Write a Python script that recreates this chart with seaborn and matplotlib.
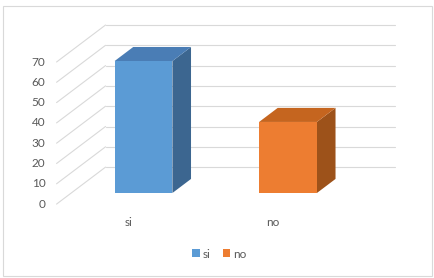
import matplotlib
matplotlib.use("Agg")
import matplotlib.pyplot as plt
from matplotlib.patches import Polygon, Patch, Rectangle
import seaborn as sns
import numpy as np

# ---- data ----
categories = ["si", "no"]
values = [65, 35]
tick_values = [0, 10, 20, 30, 40, 50, 60, 70]
legend_labels = ["si", "no"]

# ---- style ----
front_colors = ["#5B9BD5", "#ED7D31"]
top_colors = ["#4A7DB5", "#C5651F"]
side_colors = ["#3C6690", "#9D521A"]
grid_color = "#D9D9D9"
text_color = "#595959"

sns.set_theme(style="white")
plt.rcParams["font.family"] = ["Lato", "DejaVu Sans"]

W, H = 434, 278
fig = plt.figure(figsize=(W / 100, H / 100), dpi=100)
ax = fig.add_axes([0, 0, 1, 1])

sns.barplot(x=categories, y=values, hue=categories, palette=front_colors,
            width=0.4, saturation=1, legend=False, ax=ax, zorder=5,
            edgecolor="none", linewidth=0)

# pixel -> data mapping for layout
x0px, xunit = 143.5, 144.5
y0px, yunit = 193.0, 2.03
ax.set_xlim(-x0px / xunit, (W - x0px) / xunit)
ax.set_ylim((y0px - H) / yunit, y0px / yunit)
ax.axis("off")

# depth vector (full depth of the 3D box)
Dx, Dy = 49 / xunit, 37 / yunit
f_front, f_back, f_bar = -0.3, 0.7, 0.38
xl, xr = -0.5, 1.5

# back wall gridlines + side wall diagonals
for v in tick_values:
    bx0 = xl + f_back * Dx
    bx1 = xr + f_back * Dx
    by = v + f_back * Dy
    ax.plot([bx0, bx1], [by, by], color=grid_color, lw=0.8, zorder=1)
    fx = xl + f_front * Dx
    fy = v + f_front * Dy
    ax.plot([fx, bx0], [fy, by], color=grid_color, lw=0.8, zorder=1)
    ax.text(fx - 11 / xunit, fy, str(v), ha="right", va="center",
            fontsize=8.5, color=text_color)

# 3D faces of bars
bdx, bdy = f_bar * Dx, f_bar * Dy
for i, p in enumerate(ax.patches[:len(values)]):
    x0 = p.get_x()
    w = p.get_width()
    h = p.get_height()
    x1 = x0 + w
    side = Polygon([(x1, 0), (x1, h), (x1 + bdx, h + bdy), (x1 + bdx, bdy)],
                   closed=True, facecolor=side_colors[i], edgecolor="none", zorder=4)
    top = Polygon([(x0, h), (x1, h), (x1 + bdx, h + bdy), (x0 + bdx, h + bdy)],
                  closed=True, facecolor=top_colors[i], edgecolor="none", zorder=4)
    ax.add_patch(side)
    ax.add_patch(top)

# category labels
for i, c in enumerate(categories):
    ax.text(i + f_front * Dx, f_front * Dy - 9, c, ha="center", va="center",
            fontsize=8.5, color=text_color)

# legend
handles = [Patch(facecolor=front_colors[i], edgecolor="none", label=legend_labels[i])
           for i in range(len(legend_labels))]
leg = fig.legend(handles=handles, loc="center", bbox_to_anchor=(219.5 / W, 1 - 254 / H),
                 ncol=2, frameon=False, fontsize=8.5, handlelength=0.65, handleheight=0.65,
                 handletextpad=0.25, columnspacing=1.0)
for t in leg.get_texts():
    t.set_color(text_color)

# chart border
fig.patches.append(Rectangle((3 / W, 2 / H), 429 / W, 270 / H, transform=fig.transFigure,
                             fill=False, edgecolor=grid_color, lw=0.8))

fig.savefig("out.png", dpi=100)
